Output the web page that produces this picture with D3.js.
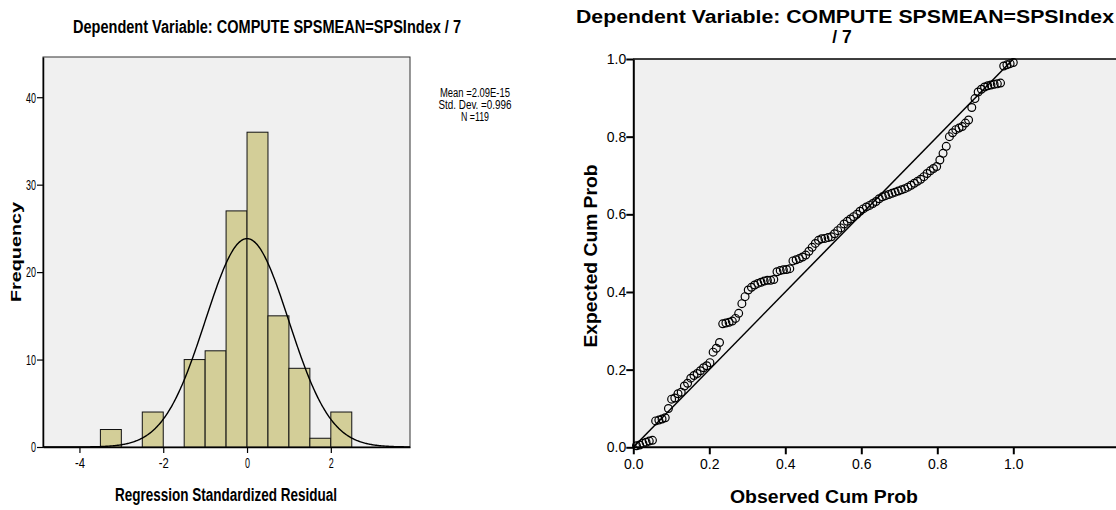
<!DOCTYPE html>
<html><head><meta charset="utf-8">
<script src="https://cdn.jsdelivr.net/npm/d3@7"></script>
<style>
body{margin:0;background:#fff;}
svg{display:block;}
.narrow{font-family:"Liberation Sans Narrow","Arial Narrow","Liberation Sans",Arial,sans-serif;}
.arial{font-family:"Liberation Sans",Arial,sans-serif;}
</style></head>
<body><svg id="c" width="1116" height="510"></svg>
<script>
// ---------- DATA ----------
const titleText = "Dependent Variable: COMPUTE SPSMEAN=SPSIndex / 7";
const binStarts = [-3.5, -2.5, -1.5, -1.0, -0.5, 0.0, 0.5, 1.0, 1.5, 2.0];
const binCounts = [2, 4, 10, 11, 27, 36, 15, 9, 1, 4];
const binWidth = 0.5;
const histXTicks = [-4, -2, 0, 2];
const histYTicks = [0, 10, 20, 30, 40];
const statMean = 2.09e-15, statSD = 0.996, statN = 119;
const legendLines = ["Mean =2.09E-15", "Std. Dev. =0.996", "N =119"];
const ppTicks = [0.0, 0.2, 0.4, 0.6, 0.8, 1.0];
// expected cumulative probabilities (sorted)
const expectedCum = [
 0.004,0.006,0.010,0.013,0.016,0.018,0.068,0.070,0.073,0.076,
 0.100,0.124,0.127,0.138,0.142,0.158,0.165,0.178,0.185,0.190,
 0.197,0.205,0.210,0.218,0.245,0.255,0.270,0.318,0.320,0.322,
 0.325,0.332,0.345,0.370,0.388,0.405,0.412,0.418,0.422,0.425,
 0.428,0.430,0.430,0.432,0.452,0.455,0.457,0.458,0.460,0.480,
 0.483,0.486,0.490,0.495,0.505,0.515,0.525,0.533,0.537,0.538,
 0.540,0.542,0.550,0.558,0.565,0.575,0.582,0.588,0.594,0.600,
 0.608,0.614,0.619,0.623,0.628,0.633,0.640,0.645,0.648,0.651,
 0.654,0.657,0.660,0.663,0.666,0.670,0.675,0.680,0.685,0.690,
 0.697,0.705,0.712,0.718,0.723,0.740,0.757,0.775,0.800,0.810,
 0.818,0.822,0.826,0.835,0.843,0.875,0.898,0.915,0.922,0.928,
 0.931,0.933,0.935,0.936,0.938,0.982,0.985,0.988,0.991];
const observedCum = expectedCum.map((d,i)=>(i+1)/expectedCum.length);

// ---------- DRAW ----------
const svg = d3.select("#c");
const bg = "#f0f0f0", barFill = "#d3ce98";

// ===== Histogram =====
const hx = d3.scaleLinear().domain([-4.87, 3.89]).range([43, 410]);
const hy = d3.scaleLinear().domain([0, 44.6]).range([447, 57]);
const H = svg.append("g");
H.append("rect").attr("x",43).attr("y",57).attr("width",367).attr("height",390)
 .attr("fill",bg).attr("stroke","#333").attr("stroke-width",1);
H.selectAll("rect.bar").data(binStarts).join("rect").attr("class","bar")
 .attr("x",d=>hx(d)).attr("width",d=>hx(d+binWidth)-hx(d))
 .attr("y",(d,i)=>hy(binCounts[i])).attr("height",(d,i)=>hy(0)-hy(binCounts[i]))
 .attr("fill",barFill).attr("stroke","#111").attr("stroke-width",1);
const pdf = x => statN*binWidth*Math.exp(-0.5*((x-statMean)/statSD)**2)/(statSD*Math.sqrt(2*Math.PI));
const curveX = d3.range(-4.87, 3.891, 0.02);
H.append("path").datum(curveX)
 .attr("d", d3.line().x(d=>hx(d)).y(d=>hy(pdf(d))))
 .attr("fill","none").attr("stroke","#000").attr("stroke-width",1.4);
const fmtInt = d => String(d);  // plain hyphen minus like the original
const hxAxis = H.append("g").attr("transform","translate(0,447)")
 .call(d3.axisBottom(hx).tickValues(histXTicks).tickSize(6).tickSizeOuter(0).tickFormat(fmtInt));
const hyAxis = H.append("g").attr("transform","translate(43,0)")
 .call(d3.axisLeft(hy).tickValues(histYTicks).tickSize(6).tickSizeOuter(0).tickFormat(fmtInt));
[hxAxis,hyAxis].forEach(a=>{
  a.select(".domain").attr("stroke","#000").attr("stroke-width",1.5);
  a.selectAll(".tick line").attr("stroke","#000").attr("stroke-width",1.2);
  a.selectAll("text").attr("class","narrow").attr("font-size",15).attr("fill","#000")
   .attr("textLength",function(){return this.textContent.length*5;})
   .attr("lengthAdjust","spacingAndGlyphs");
});
hyAxis.selectAll("text").attr("x",-7);
hxAxis.selectAll("text").attr("y",10);
H.append("text").attr("class","narrow").attr("x",267).attr("y",33).attr("text-anchor","middle")
 .attr("font-weight","bold").attr("font-size",18).attr("textLength",388).attr("lengthAdjust","spacingAndGlyphs")
 .text(titleText);
H.append("text").attr("class","narrow").attr("x",226).attr("y",501).attr("text-anchor","middle")
 .attr("font-weight","bold").attr("font-size",18).attr("textLength",222).attr("lengthAdjust","spacingAndGlyphs")
 .text("Regression Standardized Residual");
H.append("text").attr("class","arial").attr("transform","translate(21,252) rotate(-90)").attr("text-anchor","middle")
 .attr("font-weight","bold").attr("font-size",15).attr("textLength",100).attr("lengthAdjust","spacingAndGlyphs")
 .text("Frequency");
const legW = [70, 73, 28];
H.selectAll("text.leg").data(legendLines).join("text").attr("class","narrow leg")
 .attr("x",475).attr("y",(d,i)=>97+i*12).attr("text-anchor","middle").attr("font-size",12.5)
 .attr("textLength",(d,i)=>legW[i]).attr("lengthAdjust","spacingAndGlyphs")
 .text(d=>d);

// ===== P-P plot =====
const px = d3.scaleLinear().domain([0,1]).range([633.3,1013.3]);
const py = d3.scaleLinear().domain([0,1]).range([447.3,59]);
const P = svg.append("g");
P.append("rect").attr("x",633).attr("y",59).attr("width",490).attr("height",388.3).attr("fill",bg);
P.append("line").attr("x1",633).attr("x2",1116).attr("y1",59).attr("y2",59).attr("stroke","#000").attr("stroke-width",1.5);
P.append("line").attr("x1",px(0)).attr("y1",py(0)).attr("x2",px(1)).attr("y2",py(1))
 .attr("stroke","#000").attr("stroke-width",1.5);
P.selectAll("circle").data(expectedCum).join("circle")
 .attr("cx",(d,i)=>px(observedCum[i])).attr("cy",d=>py(d)).attr("r",3.9)
 .attr("fill","none").attr("stroke","#000").attr("stroke-width",1.2);
const pxAxis = P.append("g").attr("transform","translate(0,447.3)")
 .call(d3.axisBottom(px).tickValues(ppTicks).tickSize(7).tickSizeOuter(0).tickFormat(d3.format(".1f")));
pxAxis.select(".domain").attr("d","M633.3,0H1116");
const pyAxis = P.append("g").attr("transform","translate(633.3,0)")
 .call(d3.axisLeft(py).tickValues(ppTicks).tickSize(7).tickSizeOuter(0).tickFormat(d3.format(".1f")));
[pxAxis,pyAxis].forEach(a=>{
  a.select(".domain").attr("stroke","#000").attr("stroke-width",2);
  a.selectAll(".tick line").attr("stroke","#000").attr("stroke-width",2);
  a.selectAll("text").attr("class","arial").attr("font-size",14).attr("fill","#000");
});
pyAxis.selectAll("text").attr("x",-7);
pxAxis.selectAll("text").attr("y",12);
P.append("text").attr("class","arial").attr("x",845).attr("y",23).attr("text-anchor","middle")
 .attr("font-weight","bold").attr("font-size",17.5).attr("textLength",538).attr("lengthAdjust","spacingAndGlyphs")
 .text("Dependent Variable: COMPUTE SPSMEAN=SPSIndex");
P.append("text").attr("class","arial").attr("x",842).attr("y",43).attr("text-anchor","middle")
 .attr("font-weight","bold").attr("font-size",17.5).text("/ 7");
P.append("text").attr("class","arial").attr("x",824).attr("y",503).attr("text-anchor","middle")
 .attr("font-weight","bold").attr("font-size",18).attr("textLength",188).attr("lengthAdjust","spacingAndGlyphs")
 .text("Observed Cum Prob");
P.append("text").attr("class","arial").attr("transform","translate(597,256) rotate(-90)").attr("text-anchor","middle")
 .attr("font-weight","bold").attr("font-size",18).attr("textLength",183).attr("lengthAdjust","spacingAndGlyphs")
 .text("Expected Cum Prob");
</script></body></html>
